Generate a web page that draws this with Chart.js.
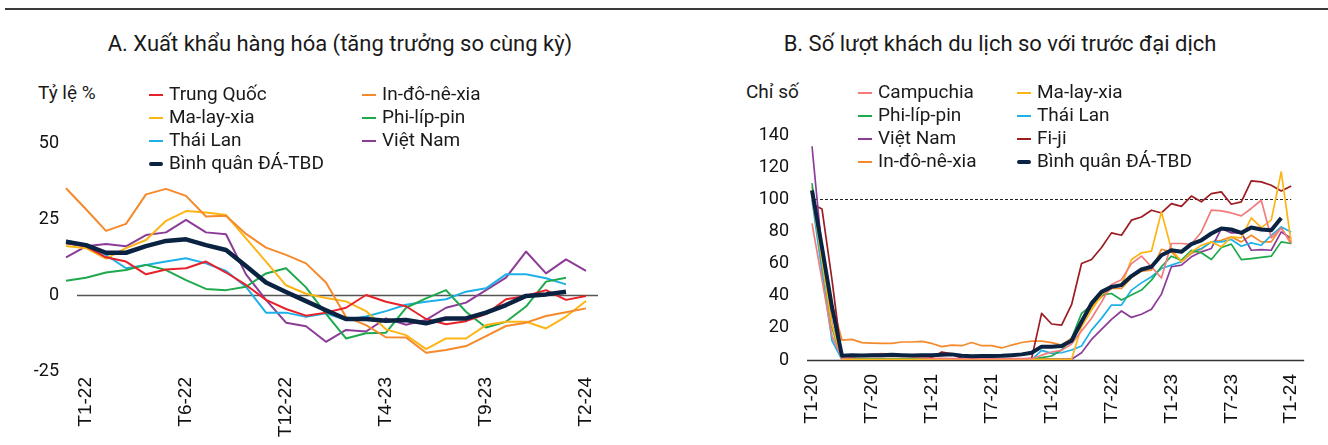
<!DOCTYPE html>
<html lang="vi">
<head>
<meta charset="utf-8">
<script src="https://cdn.jsdelivr.net/npm/chart.js@4.4.1/dist/chart.umd.min.js"></script>
<style>
  html, body { margin: 0; padding: 0; }
  body { width: 1328px; height: 445px; background: #fff; position: relative; overflow: hidden;
         font-family: Roboto, "Noto Sans", sans-serif; color: #1a1a1a; }
  .rule { position: absolute; left: 5px; right: 0; top: 8px; height: 2px; background: #3a3a3a; }
  .title { position: absolute; top: 30px; width: 600px; text-align: center; font-size: 22px; line-height: 28px; white-space: nowrap; }
  .unit { position: absolute; font-size: 19px; line-height: 22px; white-space: nowrap; }
  .chart { position: absolute; top: 0; width: 664px; height: 445px; }
  .lg { position: absolute; font-size: 19px; line-height: 22px; white-space: nowrap; }
  .lg i { position: absolute; top: 10px; width: 14px; }
</style>
</head>
<body>
<div class="rule"></div>
<div class="title" style="left:40px">A. Xuất khẩu hàng hóa (tăng trưởng so cùng kỳ)</div>
<div class="title" style="left:700px">B. Số lượt khách du lịch so với trước đại dịch</div>
<div class="unit" style="left:38px;top:82px">Tỷ lệ %</div>
<div class="unit" style="left:746px;top:81px">Chỉ số</div>
<canvas id="exports" class="chart" style="left:0" width="664" height="445"></canvas>
<canvas id="tourism" class="chart" style="left:664px" width="664" height="445"></canvas>
<div id="legendA"></div>
<div id="legendB"></div>
<script>
// ---------- Panel A: merchandise exports, y/y growth (%) ----------
const exportCategories = ['', 'T1-22', '', '', '', '', 'T6-22', '', '', '', '', 'T12-22', '', '', '', '',
  'T4-23', '', '', '', '', 'T9-23', '', '', '', '', 'T2-24'];
const exChina     = [17, 16, 12.4, 11, 6.8, 8.4, 8.8, 11, 7.4, 3.3, -1.6, -4.6, -6.8, -5.8, -4.2, 0, -2.2, -3.7, -7.9, -9.6, -8.6, -6.3, -1.4, -0.3, 1.6, -1.6, -0.3];
const exIndonesia = [35.1, 28.2, 21.1, 23.4, 33.1, 34.9, 32.6, 25.8, 26.1, 20.1, 15.6, 13.2, 10.4, 4.1, -7.2, -9.9, -13.9, -14, -19, -18.1, -16.8, -13.5, -10.2, -9.1, -6.9, -5.7, -4.4];
const exMalaysia  = [16.1, 15.4, 12, 15.4, 18.1, 24.4, 27.6, 27.1, 26.3, 18.6, 11, 3.2, 0.4, -1, -2.1, -5.3, -11.3, -13.2, -17.8, -14.3, -14.3, -9.9, -8.8, -8.8, -11, -7.1, -2];
const exPhilippines = [4.7, 5.7, 7.4, 8.2, 9.9, 8.2, 4.9, 2, 1.6, 2.7, 7.1, 8.8, 2.5, -6.2, -14.3, -12.6, -12.4, -4.2, -1.1, 1.6, -5.5, -10.7, -8.8, -3.8, 4.4, 5.7, null];
const exThailand  = [17.9, 16.4, 13.2, 8.8, 9.9, 11, 12.1, 10.4, 7.9, 2.7, -5.8, -5.8, -7.2, -6, -8.2, -7.1, -5.3, -3.2, -2.2, -1.4, 1.1, 2.2, 6.8, 6.8, 5.5, 3.5, null];
const exVietnam   = [12.4, 16, 16.8, 16, 19.7, 20.6, 24.7, 20.6, 20, 6.8, -1.6, -9.1, -10.3, -15.4, -11.5, -12, -7.7, -9.8, -8.2, -4.2, -2.5, 1.6, 5.7, 14.3, 7.1, 11.7, 7.9];
const exAverage   = [17.5, 16.4, 13.9, 13.9, 16.1, 17.8, 18.3, 16.4, 14.8, 9.5, 4.1, 1, -2, -5, -7.9, -7.9, -8.5, -8.2, -9.3, -7.7, -7.7, -5.8, -3.3, -0.3, 0.2, 1.1, null];
const exportTicks = [-25, 0, 25, 50];

// ---------- Panel B: tourist arrivals vs. pre-pandemic (index) ----------
const tourismCategories = [];
for (let y = 20; y <= 24; y++) {
  for (let m = 1; m <= 12; m++) {
    if (y === 24 && m > 1) break;
    tourismCategories.push('T' + m + '-' + y);
  }
}
const tCambodia = [85, 50, 15, 1, 1.5, 3, 3.5, 4, 3.5, 3, 2, 1.5, 1, 1, 0.8, 0.8, 0.8, 0.8, 0.8, 0.8, 0.8, 0.8, 0.8,
  3, 5, 6, 10, 18, 26, 36, 47, 50, 60, 64.6, 58, 51, 72.5, 72.5, 72, 79.7, 93.2, 92.8, 91.5, 89.7, 94.3, 99.4, 76, 82, 73];
const tMalaysia = [102, 62, 22, 0.4, 0.4, 0.4, 0.4, 0.4, 0.4, 0.4, 0.4, 0.4, 0.4, 0.4, 0.4, 0.4, 0.4, 0.4, 0.4, 0.4, 0.4, 0.4, 0.4,
  0.4, 0.4, 0.4, 0.5, 20.7, 31, 40.4, 45.5, 46.6, 62.5, 66.7, 67.7, 92.1, 69, 61.1, 67.3, 71.4, 73.5, 70.4, 76.6, 76, 88.4, 82.4, 87, 117, 73];
const tPhilippines = [110, 62, 20, 0.5, 0.5, 0.5, 0.5, 0.5, 0.5, 0.5, 0.5, 0.5, 0.5, 0.5, 0.5, 0.5, 0.5, 0.5, 0.5, 0.5, 0.5, 0.5, 0.5,
  1.5, 2.5, 6.2, 13.5, 29, 34.2, 40.4, 41.4, 37.3, 40.4, 43.5, 49.7, 58, 64.6, 62.1, 68.3, 66.7, 62.5, 70, 72.1, 62.5, 63.1, 63.8, 64.6, 73.5, 72.5];
const tThailand = [100, 55, 12, 0.2, 0.2, 0.2, 0.2, 0.2, 0.2, 0.2, 0.2, 0.2, 0.2, 0.2, 0.2, 0.2, 0.2, 0.2, 0.2, 0.2, 0.2, 0.2, 0.2,
  6, 4.1, 4.5, 6.2, 8.7, 18.6, 25.9, 34.2, 34.2, 43.5, 48, 51.8, 56.9, 59, 61.1, 67.3, 69.4, 73.5, 73.5, 75, 70.8, 72.9, 71.4, 77.6, 82.8, 79.7];
const tVietnam = [133, 68, 22, 0.5, 0.5, 0.5, 0.5, 0.5, 0.5, 0.5, 0.5, 0.5, 0.5, 0.5, 0.5, 0.5, 0.5, 0.5, 0.5, 0.5, 0.5, 0.5, 0.5,
  0.5, 0.5, 0.5, 0.5, 4.5, 12.8, 19, 25.3, 30.5, 26.5, 28.5, 31.6, 41, 58, 59, 64.2, 67.3, 69.4, 81.8, 79.1, 79.1, 68.3, 68.7, 68.3, 79.7, 75.6];
const tFiji = [97, 94, 50, 1, 0.8, 0.8, 0.8, 0.8, 0.8, 0.8, 0.8, 0.8, 1.5, 5, 3.8, 1, 0.5, 0.5, 0.5, 0.5, 0.5, 0.5, 1,
  29, 22.4, 21.7, 34.4, 60, 62.5, 70, 79.1, 77.6, 87, 89, 93.2, 91.5, 97.3, 95.6, 102, 98.4, 103.5, 104.6, 96.9, 98.4, 111.4, 110.8, 108.7, 105.2, 108.3];
const tIndonesia = [108, 70, 35, 12.4, 12.8, 10.8, 10.5, 10.3, 10.3, 11.2, 11.2, 11.6, 10.3, 8.3, 9.3, 8.9, 10.9, 8.9, 8.9, 7.5, 9.3, 10.9, 11.7,
  11.7, 10.8, 9.3, 13.5, 22.8, 33.1, 39.3, 44.5, 44.5, 51.3, 55.3, 55.9, 68.9, 67.3, 61.1, 66.3, 68.9, 73.5, 74.5, 76.6, 73.5, 77.6, 73.5, 73.5, 82.4, 72.1];
const tAverage = [105.6, 70, 33, 2.7, 2.9, 2.8, 3, 3, 3.2, 3, 2.8, 2.9, 3, 3.3, 3.5, 2.6, 2.4, 2.5, 2.5, 2.6, 3, 3.5, 4.5,
  8.3, 8.3, 8.7, 12, 23.8, 35.2, 42.4, 45.5, 46.6, 52.2, 56.3, 58, 65.2, 68.3, 67.3, 72.1, 74.5, 78.7, 81.8, 81.2, 79.1, 82.4, 81.2, 80.7, 88.4, null];
const tourismPrePandemic = 100;

// ---------- palette ----------
const C = {
  china: '#E8222B', indonesia: '#F58A2B', malaysia: '#FDB515', philippines: '#1EAA4C',
  thailand: '#1DB0E9', vietnam: '#8C3B97', average: '#0B2343', cambodia: '#F37B7D', fiji: '#9C1C22'
};

const tickFont = { family: 'Roboto, "Noto Sans", sans-serif', size: 18 };
const xFont = { family: '"Liberation Sans", Arial, sans-serif', size: 19 };

// horizontal reference lines, positioned in data units through the chart's scales
const refLines = {
  id: 'refLines',
  beforeDatasetsDraw(chart, args, opts) {
    const { ctx } = chart;
    const xs = chart.scales.x, ys = chart.scales.y;
    const step = xs.getPixelForValue(1) - xs.getPixelForValue(0);
    (opts.lines || []).forEach(l => {
      const y = Math.round(ys.getPixelForValue(l.value)) + 0.5;
      ctx.save();
      ctx.strokeStyle = l.color;
      ctx.lineWidth = l.width;
      ctx.setLineDash(l.dash || []);
      ctx.beginPath();
      ctx.moveTo(xs.getPixelForValue(0) + step * l.from, y);
      ctx.lineTo(xs.getPixelForValue(xs.max) + step * l.to, y);
      ctx.stroke();
      ctx.restore();
    });
  }
};

function series(label, data, color, width, order) {
  return { label, data, borderColor: color, backgroundColor: color, borderWidth: width,
           pointRadius: 0, tension: 0, fill: false, order, spanGaps: false, borderJoinStyle: 'round' };
}

function baseOptions(cfg) {
  return {
    responsive: false, animation: false, devicePixelRatio: 1,
    layout: { padding: { left: 0, right: cfg.right, top: cfg.top, bottom: 0 } },
    plugins: { legend: { display: false }, tooltip: { enabled: false }, refLines: { lines: cfg.lines } },
    scales: {
      x: {
        type: 'category', offset: false,
        grid: { display: false, drawTicks: false }, border: { display: false },
        afterFit(s) { s.height = cfg.xHeight; },
        ticks: {
          autoSkip: false, maxRotation: 90, minRotation: 90, padding: cfg.xPad,
          color: '#111', font: xFont,
          callback(v, i) { return cfg.showTick(i) ? this.getLabelForValue(v) : ''; }
        }
      },
      y: {
        min: cfg.min, max: cfg.max,
        grid: { display: false, drawTicks: false }, border: { display: false },
        afterFit(s) { s.width = cfg.yWidth; },
        afterBuildTicks(s) { if (cfg.ticks) s.ticks = cfg.ticks.map(v => ({ value: v })); },
        ticks: { stepSize: cfg.step, padding: cfg.yPad, color: '#111', font: tickFont }
      }
    }
  };
}

// Panel A chart
const exportSeries = [
  ['Trung Quốc', exChina, C.china],
  ['In-đô-nê-xia', exIndonesia, C.indonesia],
  ['Ma-lay-xia', exMalaysia, C.malaysia],
  ['Phi-líp-pin', exPhilippines, C.philippines],
  ['Thái Lan', exThailand, C.thailand],
  ['Việt Nam', exVietnam, C.vietnam],
  ['Bình quân ĐÁ-TBD', exAverage, C.average]
];
new Chart(document.getElementById('exports'), {
  type: 'line',
  data: {
    labels: exportCategories,
    datasets: exportSeries.map((s, k) =>
      series(s[0], s[1], s[2], k === exportSeries.length - 1 ? 4.5 : 2, k === exportSeries.length - 1 ? 0 : 1))
  },
  options: baseOptions({
    right: 78, top: 143, xHeight: 74, yWidth: 66, xPad: 6, yPad: 7,
    min: -25, max: 50, ticks: exportTicks,
    showTick: i => exportCategories[i] !== '',
    lines: [{ value: 0, from: 0.55, to: 0.6, color: '#555', width: 1.5 }]
  }),
  plugins: [refLines]
});

// Panel B chart
const tourismSeries = [
  ['Campuchia', tCambodia, C.cambodia],
  ['Ma-lay-xia', tMalaysia, C.malaysia],
  ['Phi-líp-pin', tPhilippines, C.philippines],
  ['Thái Lan', tThailand, C.thailand],
  ['Việt Nam', tVietnam, C.vietnam],
  ['Fi-ji', tFiji, C.fiji],
  ['In-đô-nê-xia', tIndonesia, C.indonesia],
  ['Bình quân ĐÁ-TBD', tAverage, C.average]
];
new Chart(document.getElementById('tourism'), {
  type: 'line',
  data: {
    labels: tourismCategories,
    datasets: tourismSeries.map((s, k) =>
      series(s[0], s[1], s[2], k === tourismSeries.length - 1 ? 4 : 1.7, k === tourismSeries.length - 1 ? 0 : 1))
  },
  options: baseOptions({
    right: 36, top: 135, xHeight: 85, yWidth: 148, xPad: 14, yPad: 23,
    min: 0, max: 140, step: 20,
    showTick: i => i % 6 === 0,
    lines: [
      { value: 0, from: -0.5, to: 1.3, color: '#333', width: 1.5 },
      { value: tourismPrePandemic, from: 0.3, to: 0, color: '#222', width: 1, dash: [3, 2] }
    ]
  }),
  plugins: [refLines]
});

// Legends (two columns, row-major)
function buildLegend(id, items, cols, rows) {
  const host = document.getElementById(id);
  items.forEach((s, k) => {
    const c = k % 2, r = Math.floor(k / 2);
    const el = document.createElement('div');
    el.className = 'lg';
    el.style.left = cols[c] + 'px';
    el.style.top = rows[r] + 'px';
    el.style.paddingLeft = '20px';
    const isAvg = s[0].startsWith('Bình quân');
    const sw = document.createElement('i');
    sw.style.left = '0px';
    sw.style.height = isAvg ? '4px' : '2px';
    sw.style.top = isAvg ? '10px' : '11px';
    sw.style.background = s[2];
    sw.style.borderRadius = isAvg ? '2px' : '0';
    el.appendChild(sw);
    el.appendChild(document.createTextNode(s[0]));
    host.appendChild(el);
  });
}
buildLegend('legendA', exportSeries, [149, 362], [83, 106, 129, 152]);
buildLegend('legendB', tourismSeries, [858, 1017], [81, 104, 127, 150]);
</script>
</body>
</html>
